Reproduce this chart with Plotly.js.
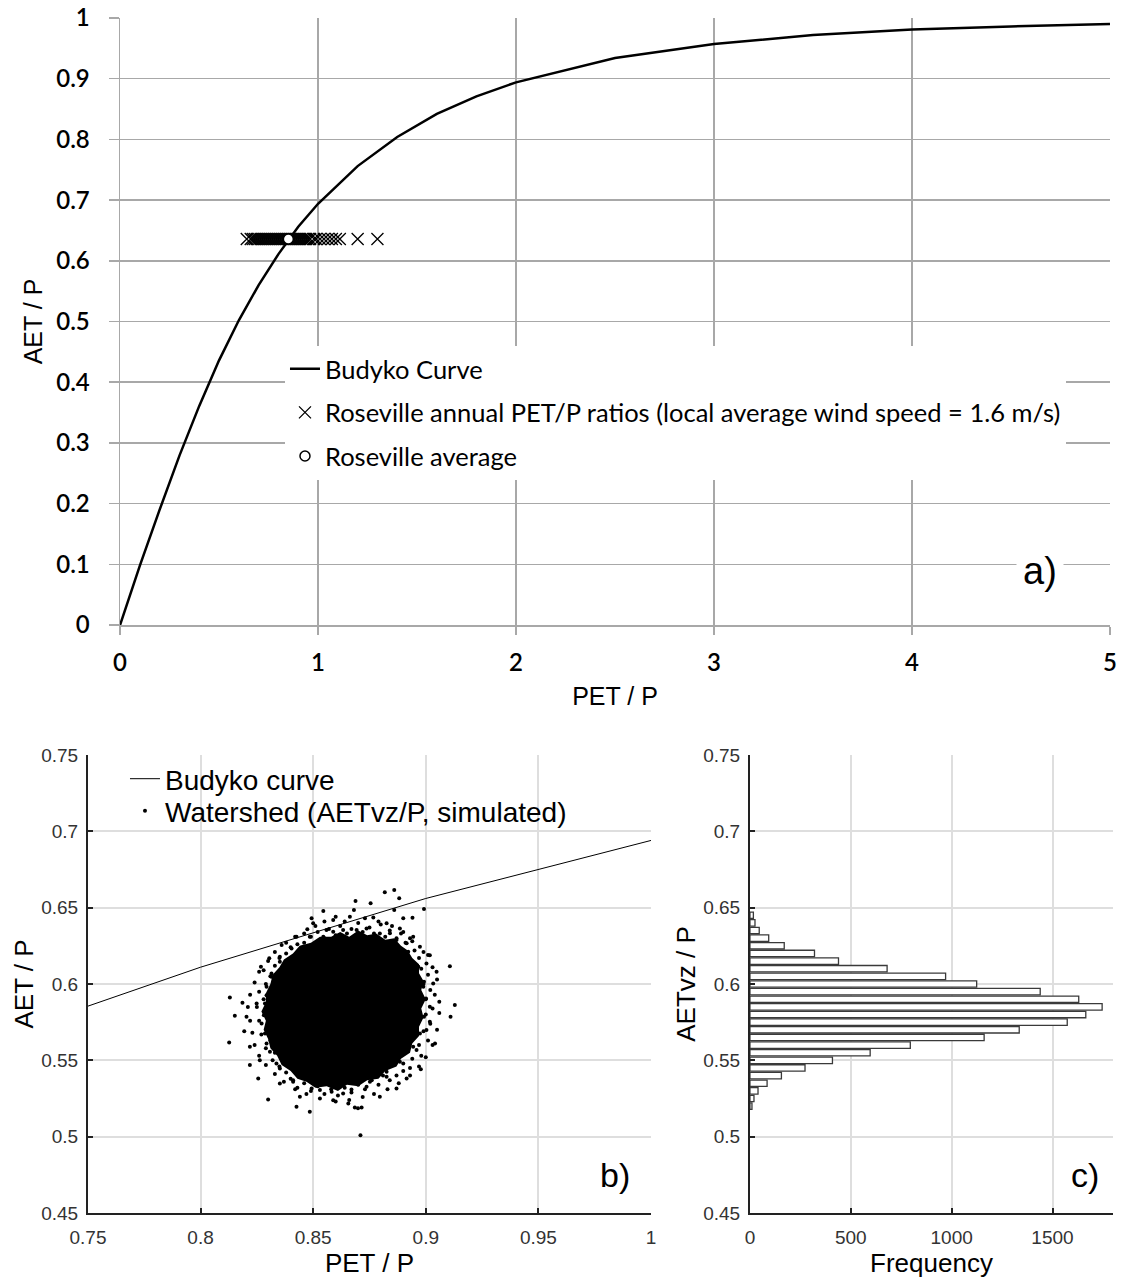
<!DOCTYPE html>
<html>
<head>
<meta charset="utf-8">
<script src="https://cdn.plot.ly/plotly-3.0.1.min.js"></script>
<style>html,body{margin:0;padding:0;background:#fff;}#chart{width:1122px;height:1285px;}</style>
</head>
<body>
<div id="chart"></div>
<script>
// ---- Budyko curve (PET/P vs AET/P) ----
const budykoX = [0,0.1,0.2,0.3,0.4,0.5,0.6,0.7,0.8,0.9,1.0,1.2,1.4,1.6,1.8,2.0,2.5,3.0,3.5,4.0,4.5,5.0];
const budykoY = [0,0.098,0.190,0.279,0.361,0.436,0.502,0.560,0.611,0.656,0.694,0.756,0.804,0.842,0.871,0.894,0.934,0.957,0.972,0.981,0.986,0.990];

// ---- Roseville annual PET/P ratios (panel a) ----
const roseX = [0.64,0.66,0.67,0.68,0.69,0.70,0.71,0.72,0.73,0.74,0.75,0.76,0.77,0.78,0.79,0.80,0.81,0.82,0.83,0.84,0.85,0.86,0.87,0.88,0.89,0.90,0.91,0.92,0.93,0.94,0.95,0.96,0.98,0.99,1.01,1.03,1.05,1.07,1.09,1.11,1.20,1.30];
const roseAET = 0.636;
const roseAvgX = [0.85];
const roseAvgY = [0.636];

// ---- Watershed simulated cloud (panel b): outline of the solid dense core ----
const coreX = [0.862,0.866,0.870,0.874,0.878,0.882,0.886,0.889,0.892,0.894,0.897,0.897,0.899,0.898,0.900,0.898,0.899,0.897,0.897,0.894,0.893,0.889,0.887,0.882,0.879,0.874,0.870,0.865,0.861,0.856,0.851,0.847,0.843,0.840,0.836,0.834,0.831,0.830,0.828,0.829,0.827,0.829,0.829,0.831,0.832,0.835,0.837,0.841,0.844,0.849,0.853,0.858];
const coreY = [0.634,0.631,0.635,0.632,0.633,0.629,0.630,0.625,0.622,0.617,0.613,0.607,0.602,0.596,0.590,0.584,0.578,0.572,0.566,0.561,0.555,0.551,0.546,0.543,0.538,0.537,0.533,0.534,0.530,0.533,0.532,0.536,0.538,0.543,0.547,0.553,0.558,0.564,0.570,0.576,0.582,0.588,0.594,0.600,0.606,0.611,0.616,0.620,0.625,0.627,0.631,0.631];

// ---- Watershed simulated points around the dense core ----
const wsX = [0.8818,0.8860,0.8882,0.8688,0.8755,0.8545,0.8681,0.8860,0.8992,0.8900,0.8941,0.8493,0.8474,0.8360,0.8305,0.8268,0.8130,0.8186,0.8152,0.8127,0.8194,0.8219,0.8256,0.8300,0.8426,0.8485,0.8685,0.8715,0.8978,0.9041,0.9107,0.9129,0.9110,0.9018,0.9048,0.9033,0.9060,0.9018,0.8915,0.8870,0.8796,0.8656,0.8589,0.8441,0.8352,0.8263,0.8219,0.8204,0.8249,0.8293,0.8315,0.8352,0.8426,0.8500,0.8589,0.8663,0.8767,0.8826,0.8885,0.8944,0.8974,0.9003,0.8989,0.9018,0.9003,0.8959,0.8900,0.8826,0.8737,0.8633,0.8530,0.8411,0.8337,0.8293,0.8271,0.8286,0.8337,0.8382,0.8456,0.8545,0.8633,0.8737,0.8841,0.8915,
  0.8589,0.8693,0.8796,0.8870,0.8922,0.8967,0.8992,0.9001,0.8992,0.8974,0.8944,0.8885,0.8826,0.8752,0.8670,0.8582,0.8493,0.8411,0.8352,0.8308,0.8286,0.8281,0.8293,0.8315,0.8352,0.8404,0.8485,0.8559,0.8710,0.8699,
  0.846,0.849,0.852,0.855,0.857,0.860,0.862,0.865,0.867,0.870,0.872,0.875,0.877,0.880,0.882,0.884,0.887,0.889,0.891,0.893,
  0.895,0.897,0.899,0.898,0.901,0.899,0.902,0.900,0.903,0.900,0.902,0.899,0.901,0.897,0.898,0.894,0.893,
  0.890,0.887,0.884,0.881,0.879,0.876,0.873,0.870,0.867,0.864,0.861,0.858,0.855,0.852,0.849,0.846,0.843,0.840,0.838,
  0.835,0.832,0.833,0.829,0.831,0.827,0.830,0.826,0.829,0.825,0.828,0.826,0.829,0.831,0.828,0.833,0.835,0.838,0.840,0.843,
  0.855,0.860,0.864,0.873,0.879,0.885,0.851,0.846,0.890,0.894,
  0.901,0.903,0.905,0.904,0.906,0.905,0.903,0.900,0.897,
  0.893,0.888,0.883,0.877,0.872,0.866,0.860,0.853,0.847,0.842,0.837,0.833,
  0.829,0.826,0.824,0.823,0.822,0.821,0.822,0.824,0.826,0.830,0.833,0.838,0.842];
const wsY = [0.6600,0.6615,0.6561,0.6543,0.6528,0.6478,0.6484,0.6484,0.6491,0.6430,0.6434,0.6430,0.6358,0.6255,0.6168,0.6113,0.5912,0.5877,0.5792,0.5617,0.5691,0.5469,0.5381,0.5244,0.5196,0.5163,0.5191,0.5191,0.5442,0.5611,0.6117,0.5862,0.5785,0.6189,0.6080,0.6004,0.5884,0.5753,0.5381,0.5316,0.5261,0.5217,0.5239,0.5261,0.5348,0.5501,0.5589,0.5785,0.5873,0.5982,0.6069,0.6178,0.6310,0.6397,0.6419,0.6441,0.6436,0.6397,0.6364,0.6310,0.6244,0.6135,0.5982,0.5851,0.5698,0.5567,0.5480,0.5392,0.5327,0.5283,0.5305,0.5370,0.5480,0.5611,0.5742,0.5873,0.6004,0.6135,0.6244,0.6310,0.6353,0.6364,0.6332,0.6266,
  0.6342,0.6353,0.6331,0.6288,0.6211,0.6113,0.6015,0.5905,0.5785,0.5676,0.5589,0.5490,0.5425,0.5359,0.5309,0.5294,0.5316,0.5359,0.5447,0.5556,0.5676,0.5796,0.5927,0.6047,0.6146,0.6233,0.6310,0.6353,0.5010,0.5187,
  0.627,0.631,0.634,0.630,0.636,0.632,0.638,0.633,0.636,0.640,0.634,0.637,0.633,0.639,0.631,0.635,0.630,0.633,0.627,0.630,
  0.622,0.617,0.621,0.610,0.606,0.600,0.596,0.590,0.584,0.580,0.574,0.569,0.563,0.560,0.553,0.551,0.545,
  0.543,0.540,0.537,0.540,0.534,0.537,0.531,0.534,0.529,0.532,0.527,0.531,0.528,0.533,0.530,0.535,0.532,0.538,0.542,
  0.546,0.550,0.555,0.558,0.563,0.567,0.571,0.576,0.581,0.585,0.590,0.595,0.600,0.605,0.609,0.612,0.617,0.620,0.624,0.626,
  0.641,0.644,0.641,0.643,0.641,0.638,0.638,0.633,0.634,0.628,
  0.619,0.611,0.603,0.593,0.581,0.570,0.560,0.552,0.546,
  0.540,0.535,0.531,0.528,0.526,0.524,0.523,0.525,0.528,0.531,0.536,0.541,
  0.547,0.553,0.560,0.568,0.576,0.585,0.593,0.601,0.608,0.615,0.621,0.627,0.631];

// ---- Histogram of AETvz/P (panel c) ----
const histBins = [0.645,0.640,0.635,0.630,0.625,0.620,0.615,0.610,0.605,0.600,0.595,0.590,0.585,0.580,0.575,0.570,0.565,0.560,0.555,0.550,0.545,0.540,0.535,0.530,0.525,0.520];
const histFreq = [17,25,46,93,170,320,439,680,970,1124,1439,1630,1746,1665,1573,1335,1161,795,596,409,273,156,85,40,20,10];

// ---- tick labels ----
const topXTicks = [0,1,2,3,4,5];
const topYTicks = [0,0.1,0.2,0.3,0.4,0.5,0.6,0.7,0.8,0.9,1];
const botYTicks = [0.45,0.5,0.55,0.6,0.65,0.7,0.75];
const bXTicks = [0.75,0.8,0.85,0.9,0.95,1];
const cXTicks = [0,500,1000,1500];

const calib = 'Lato, "Open Sans", sans-serif';
const helv = '"Liberation Sans", Arial, sans-serif';

const traces = [
  {x: budykoX, y: budykoY, type: 'scatter', mode: 'lines', name: 'Budyko Curve',
   line: {color: '#000', width: 2.5}, xaxis: 'x', yaxis: 'y', legend: 'legend', legendgroup: 'a1', hoverinfo: 'skip'},
  {x: roseX, y: roseX.map(() => roseAET), type: 'scatter', mode: 'markers',
   name: 'Roseville annual PET/P ratios (local average wind speed = 1.6 m/s)',
   marker: {symbol: 'x-thin-open', size: 12, color: '#000', line: {color: '#000', width: 1.3}},
   xaxis: 'x', yaxis: 'y', legend: 'legend', legendgroup: 'a2'},
  {x: roseAvgX, y: roseAvgY, type: 'scatter', mode: 'markers', name: 'Roseville average',
   marker: {symbol: 'circle', size: 10, color: '#fff', line: {color: '#000', width: 1.5}},
   xaxis: 'x', yaxis: 'y', legend: 'legend', legendgroup: 'a3'},

  {x: coreX, y: coreY, type: 'scatter', mode: 'lines', fill: 'toself', fillcolor: '#000',
   line: {width: 0, color: '#000'}, showlegend: false, hoverinfo: 'skip', xaxis: 'x2', yaxis: 'y2'},
  {x: wsX, y: wsY, type: 'scatter', mode: 'markers', name: 'Watershed (AETvz/P, simulated)',
   marker: {color: '#000', size: 4}, xaxis: 'x2', yaxis: 'y2', legend: 'legend3'},
  {x: budykoX, y: budykoY, type: 'scatter', mode: 'lines', name: 'Budyko curve',
   line: {color: '#000', width: 1}, xaxis: 'x2', yaxis: 'y2', legend: 'legend2'},

  {x: histFreq, y: histBins, type: 'bar', orientation: 'h', width: 0.0042,
   marker: {color: '#fff', line: {color: '#3a3a3a', width: 1.3}}, showlegend: false,
   xaxis: 'x3', yaxis: 'y3'}
];

const botAxis = {
  showline: true, linecolor: '#222', linewidth: 2, ticks: 'inside', ticklen: 5, tickcolor: '#222', tickwidth: 2,
  showgrid: true, gridcolor: '#dedede', gridwidth: 2, zeroline: false,
  tickfont: {family: helv, size: 19, color: '#333'}
};

const layout = {
  width: 1122, height: 1285,
  margin: {l: 0, r: 0, t: 0, b: 0},
  paper_bgcolor: '#fff', plot_bgcolor: '#fff',
  showlegend: true,
  xaxis: {domain: [0.107, 0.9893], anchor: 'y', range: [0, 5], tickvals: topXTicks, ticktext: topXTicks.map(String),
    showgrid: true, gridcolor: '#a8a8a8', gridwidth: 1.5, showline: true, linecolor: '#a8a8a8', linewidth: 1.5,
    ticks: 'outside', ticklen: 8, tickcolor: '#a8a8a8', tickwidth: 1.5, zeroline: false, ticklabelstandoff: 8,
    tickfont: {family: calib, size: 24, color: '#000', weight: 600},
    title: {text: 'PET / P', font: {family: helv, size: 25, color: '#000'}, standoff: 12}},
  yaxis: {domain: [0.5136, 0.986], anchor: 'x', range: [0, 1], tickvals: topYTicks, ticktext: topYTicks.map(String),
    showgrid: true, gridcolor: '#a8a8a8', gridwidth: 1.5, showline: true, linecolor: '#a8a8a8', linewidth: 1.5,
    ticks: 'outside', ticklen: 10, tickcolor: '#a8a8a8', tickwidth: 1.5, zeroline: false, ticklabelstandoff: 14,
    tickfont: {family: calib, size: 24, color: '#000', weight: 600},
    title: {text: 'AET / P', font: {family: helv, size: 25, color: '#000'}, standoff: 6}},

  xaxis2: Object.assign({}, botAxis, {domain: [0.0784, 0.5802], anchor: 'y2', range: [0.75, 1],
    tickvals: bXTicks, ticktext: bXTicks.map(String), ticklabelstandoff: 6,
    title: {text: 'PET / P', font: {family: helv, size: 26, color: '#000'}, standoff: 0}}),
  yaxis2: Object.assign({}, botAxis, {domain: [0.056, 0.4125], anchor: 'x2', range: [0.45, 0.75],
    tickvals: botYTicks, ticktext: botYTicks.map(String), ticklabelstandoff: 4,
    title: {text: 'AET / P', font: {family: helv, size: 26, color: '#000'}, standoff: 0}}),
  xaxis3: Object.assign({}, botAxis, {domain: [0.6684, 0.992], anchor: 'y3', range: [0, 1800],
    tickvals: cXTicks, ticktext: cXTicks.map(String), ticklabelstandoff: 6,
    title: {text: 'Frequency', font: {family: helv, size: 26, color: '#000'}, standoff: 2}}),
  yaxis3: Object.assign({}, botAxis, {domain: [0.056, 0.4125], anchor: 'x3', range: [0.45, 0.75],
    tickvals: botYTicks, ticktext: botYTicks.map(String), ticklabelstandoff: 4,
    title: {text: 'AETvz / P', font: {family: helv, size: 26, color: '#000'}, standoff: 0}}),

  legend: {x: 0.254, y: 0.731, xanchor: 'left', yanchor: 'top', bgcolor: '#fff', borderwidth: 0,
    font: {family: calib, size: 25.5, color: '#000'}, tracegroupgap: 7.5, itemwidth: 30},
  legend2: {x: 0.1114, y: 1 - 779/1285, xanchor: 'left', yanchor: 'middle', bgcolor: 'rgba(255,255,255,0)', borderwidth: 0,
    font: {family: helv, size: 28, color: '#000'}},
  legend3: {x: 0.1114, y: 1 - 811/1285, xanchor: 'left', yanchor: 'middle', bgcolor: 'rgba(255,255,255,0)', borderwidth: 0,
    font: {family: helv, size: 28, color: '#000'}},

  annotations: [
    {text: 'a)', xref: 'paper', yref: 'paper', x: 1040/1122, y: 1 - 571/1285, xanchor: 'center', yanchor: 'middle',
     showarrow: false, font: {family: helv, size: 38, color: '#000'}, bgcolor: '#fff', borderpad: 6},
    {text: 'b)', xref: 'paper', yref: 'paper', x: 615/1122, y: 1 - 1175/1285, xanchor: 'center', yanchor: 'middle',
     showarrow: false, font: {family: helv, size: 34, color: '#000'}},
    {text: 'c)', xref: 'paper', yref: 'paper', x: 1085/1122, y: 1 - 1175/1285, xanchor: 'center', yanchor: 'middle',
     showarrow: false, font: {family: helv, size: 34, color: '#000'}}
  ]
};

Plotly.newPlot('chart', traces, layout, {displayModeBar: false, staticPlot: true});
</script>
</body>
</html>
